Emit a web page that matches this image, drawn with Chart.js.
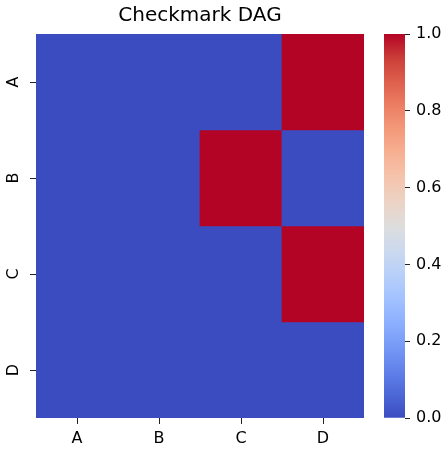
<!DOCTYPE html>
<html>
<head>
<meta charset="utf-8">
<script src="https://cdn.jsdelivr.net/npm/chart.js@4"></script>
<style>
  body { margin: 0; background: #fff; }
  #wrap { position: relative; width: 443px; height: 450px; }
  canvas { position: absolute; left: 0; top: 0; }
</style>
</head>
<body>
<div id="wrap">
  <canvas id="heat" width="443" height="450"></canvas>
  <canvas id="bar" width="443" height="450"></canvas>
</div>
<script>
// data
const rowLabels = ['A', 'B', 'C', 'D'];
const colLabels = ['A', 'B', 'C', 'D'];
const rowA = [0, 0, 0, 1];
const rowB = [0, 0, 1, 0];
const rowC = [0, 0, 0, 1];
const rowD = [0, 0, 0, 0];
const cbarTicks = [0, 0.2, 0.4, 0.6, 0.8, 1.0];

const matrix = [rowA, rowB, rowC, rowD];

// coolwarm colormap stops
const coolwarm = [
  [0.0, '59,76,192'], [0.0625, '77,104,215'], [0.125, '98,130,234'], [0.1875, '119,154,247'],
  [0.25, '141,176,254'], [0.3125, '163,194,255'], [0.375, '184,208,249'], [0.4375, '204,217,238'],
  [0.5, '221,221,221'], [0.5625, '236,211,197'], [0.625, '245,196,173'], [0.6875, '247,177,148'],
  [0.75, '244,154,123'], [0.8125, '236,127,99'], [0.875, '222,96,77'], [0.9375, '203,62,56'],
  [1.0, '180,4,38']
];
const cellColor = v => v >= 1 ? 'rgb(180,4,38)' : 'rgb(59,76,192)';

Chart.defaults.font.family = 'DejaVu Sans';
Chart.defaults.color = '#000';

const tickGrid = { drawOnChartArea: false, tickLength: 6, color: '#222', lineWidth: 1 };

new Chart(document.getElementById('heat'), {
  type: 'bar',
  data: {
    labels: colLabels,
    datasets: matrix.map((vals, r) => ({
      label: rowLabels[r],
      data: vals.map(() => [r, r + 1]),
      backgroundColor: vals.map(cellColor),
      borderWidth: 0,
      barPercentage: 1,
      categoryPercentage: 1,
      grouped: false
    }))
  },
  options: {
    responsive: false,
    animation: false,
    devicePixelRatio: 1,
    layout: { padding: { left: 0, right: 79, top: 0, bottom: 0 } },
    plugins: {
      legend: { display: false },
      tooltip: { enabled: false },
      title: {
        display: true,
        text: 'Checkmark DAG',
        fullSize: false,
        color: '#000',
        font: { size: 20, weight: 'normal' },
        padding: { top: 4, bottom: 6 }
      }
    },
    scales: {
      x: {
        offset: true,
        grid: Object.assign({ offset: false }, tickGrid),
        border: { display: false },
        ticks: { font: { size: 16 }, color: '#000', padding: 5 },
        afterFit(s) { s.height = 32; }
      },
      y: {
        type: 'linear',
        min: 0,
        max: 4,
        reverse: true,
        afterBuildTicks(s) { s.ticks = rowLabels.map((_, i) => ({ value: i + 0.5 })); },
        ticks: {
          callback: (v, i) => rowLabels[i],
          minRotation: 90,
          maxRotation: 90,
          crossAlign: 'center',
          padding: 10,
          font: { size: 16 },
          color: '#000'
        },
        grid: tickGrid,
        border: { display: false },
        afterFit(s) { s.width = 36; }
      }
    }
  }
});

// colorbar
new Chart(document.getElementById('bar'), {
  type: 'bar',
  data: {
    labels: ['cbar'],
    datasets: [{
      data: [[0, 1]],
      borderWidth: 0,
      barPercentage: 1,
      categoryPercentage: 1,
      backgroundColor(c) {
        const a = c.chart.chartArea;
        if (!a) return 'rgb(59,76,192)';
        const g = c.chart.ctx.createLinearGradient(0, a.bottom, 0, a.top);
        coolwarm.forEach(([p, rgb]) => g.addColorStop(p, 'rgb(' + rgb + ')'));
        return g;
      }
    }]
  },
  options: {
    responsive: false,
    animation: false,
    devicePixelRatio: 1,
    layout: { padding: { left: 384, right: 0, top: 34, bottom: 32 } },
    plugins: { legend: { display: false }, tooltip: { enabled: false } },
    scales: {
      x: { display: false },
      y: {
        position: 'right',
        min: 0,
        max: 1,
        afterBuildTicks(s) { s.ticks = cbarTicks.map(v => ({ value: v })); },
        ticks: { callback: v => v.toFixed(1), padding: 6, font: { size: 16 }, color: '#000' },
        grid: { drawOnChartArea: false, tickLength: 5, color: '#222', lineWidth: 1 },
        border: { display: false },
        afterFit(s) { s.width = 38; }
      }
    }
  }
});
</script>
</body>
</html>
